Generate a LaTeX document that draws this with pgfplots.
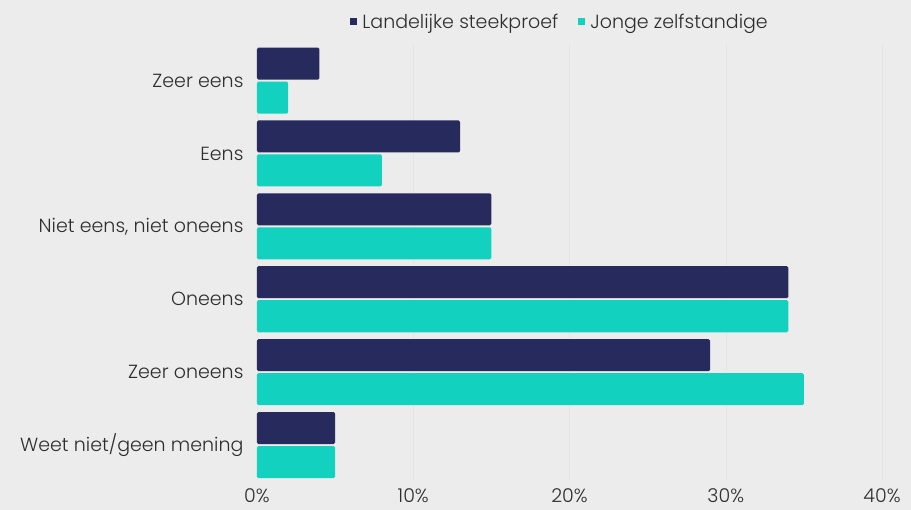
\documentclass[border=0pt]{standalone}
\usepackage{fontspec}
\setmainfont{Poppins}[UprightFont=* Light]
\usepackage{pgfplots}
\pgfplotsset{compat=1.18}
\usetikzlibrary{backgrounds}
\definecolor{navy}{HTML}{272A5C}
\definecolor{teal2}{HTML}{12D1BE}
\definecolor{bg}{HTML}{ECECEC}
\definecolor{txt}{HTML}{2E2E2E}
\begin{document}
\begin{tikzpicture}[font=\fontsize{19}{22}\selectfont, text=txt]
\begin{axis}[
  name=ax,
  scale only axis,
  width=625pt, height=437.4pt,
  xbar=2pt, bar width=32pt,
  xmin=0, xmax=40,
  ymin=-0.5, ymax=5.5,
  y dir=reverse,
  ytick={0,1,2,3,4,5},
  yticklabels={Zeer eens,Eens,{Niet eens, niet oneens},Oneens,Zeer oneens,Weet niet/geen mening},
  xtick={0,10,20,30,40},
  xticklabel={\pgfmathprintnumber{\tick}\%},
  /pgf/number format/assume math mode=true,
  axis line style={draw=none},
  major tick length=0pt,
  xmajorgrids, grid style={draw=black!10, line width=0.4pt},
  yticklabel style={xshift=-10pt, text=txt},
  xticklabel style={yshift=-4pt, text=txt},
  legend style={at={(0.485,1)}, anchor=south, yshift=10pt, draw=none, fill=none,
    legend columns=2, /tikz/every even column/.append style={column sep=18pt},
    /tikz/every odd column/.append style={column sep=3pt},
    text=txt, font=\fontsize{19}{22}\selectfont},
  legend image code/.code={\fill[#1, sharp corners] (0pt,-3.5pt) rectangle (7pt,3.5pt);},
]
\addplot[draw=none, fill=navy, rounded corners=1.5pt, bar shift=17pt] coordinates {(4,0) (13,1) (15,2) (34,3) (29,4) (5,5)};
\addplot[draw=none, fill=teal2, rounded corners=1.5pt, bar shift=-17pt] coordinates {(2,0) (8,1) (15,2) (34,3) (35,4) (5,5)};
\legend{Landelijke steekproef, Jonge zelfstandige}
\end{axis}
\begin{scope}[on background layer]
\fill[bg] ([shift={(-257pt,-28.5pt)}]ax.south west) rectangle ++(911pt,510pt);
\end{scope}
\end{tikzpicture}
\end{document}
